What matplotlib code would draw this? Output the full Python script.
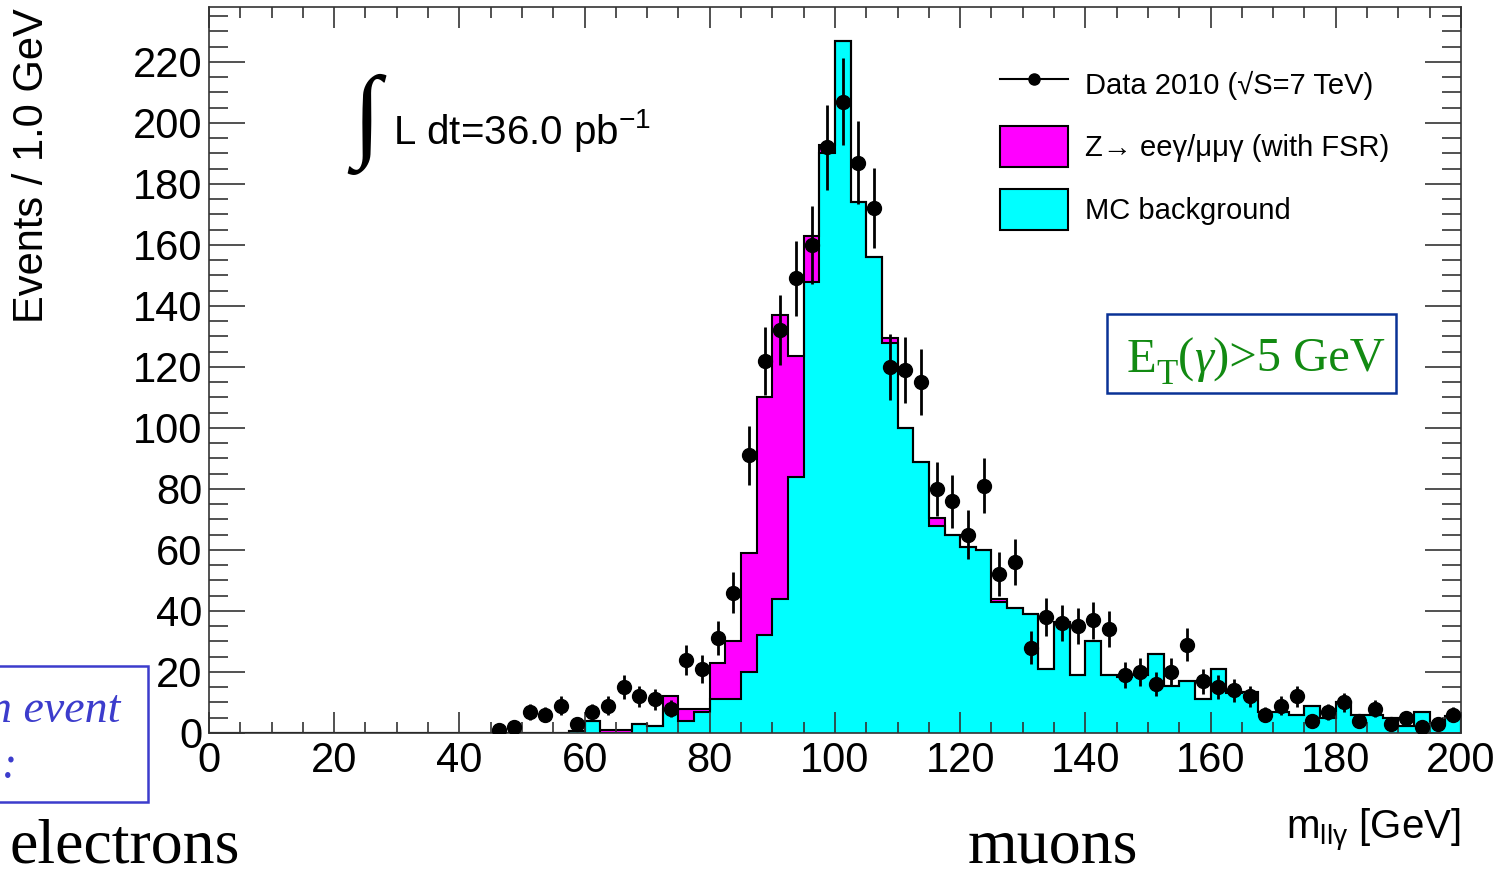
import numpy as np
import matplotlib
matplotlib.use('Agg')
import matplotlib.pyplot as plt
from matplotlib.lines import Line2D
from matplotlib.patches import Patch, Rectangle

plt.rcParams['font.family'] = ['Liberation Sans', 'DejaVu Sans']

# binning: 2.5 GeV bins from 0 to 200, arrays below start at 45 GeV
bin_width = 2.5
x_max = 200.0
first_edge = 45.0

data_counts = [1, 2, 7, 6, 9, 3, 7, 9, 15, 12,
               11, 8, 24, 21, 31, 46, 91, 122, 132, 149,
               160, 192, 207, 187, 172, 120, 119, 115, 80, 76,
               65, 81, 52, 56, 28, 38, 36, 35, 37, 34,
               19, 20, 16, 20, 29, 17, 15, 14, 12, 6,
               9, 12, 4, 7, 10, 4, 8, 3, 5, 2,
               3, 6]

mc_background = [0, 0, 0, 0, 0, 0.5, 4, 0, 0, 3,
                 2.3, 8, 4, 7, 11, 11, 20, 32, 44, 84,
                 148, 190, 227, 174, 156, 128, 100, 89, 68, 65,
                 61, 60, 43, 41, 39, 21, 36.5, 19, 30, 19,
                 18.5, 19, 26, 15.3, 17, 11, 21, 13, 13.5, 7,
                 7, 6, 9, 5, 10, 6, 6, 5, 2.2, 7,
                 3.3, 5.5]

z_fsr = [0, 0, 0, 0, 0, 0, 0, 1, 1, 0,
         0, 4, 4, 1, 12, 19, 39, 78, 93, 39.5,
         15, 2.6, 0, 0, 0, 1.6, 0, 0, 2.4, 0,
         0, 0, 0.8, 0, 0, 0, 0, 0, 0, 0,
         0.5, 0, 0, 0, 0, 0, 0, 0.5, 0, 0,
         0, 0, 0, 0, 0, 0, 0, 0, 0, 0,
         0, 0]

x_ticks = [0, 20, 40, 60, 80, 100, 120, 140, 160, 180, 200]
y_ticks = [0, 20, 40, 60, 80, 100, 120, 140, 160, 180, 200, 220]

W, H = 1505, 871
serif = ['Liberation Serif', 'DejaVu Serif']
fig = plt.figure(figsize=(W / 100, H / 100), dpi=100)
ax = fig.add_axes([209 / W, 1 - 733 / H, 1252 / W, 726 / H])

edges = np.arange(0, x_max + bin_width / 2, bin_width)
n_pad = int(round(first_edge / bin_width))
bkg = np.concatenate([np.zeros(n_pad), mc_background])
total = bkg + np.concatenate([np.zeros(n_pad), z_fsr])

ax.stairs(bkg, edges, fill=True, color='#00ffff', lw=0)
ax.stairs(total, edges, baseline=bkg, fill=True, color='#ff00ff', lw=0)
ax.stairs(bkg, edges, color='black', lw=1.5)
ax.stairs(total, edges, color='black', lw=1.5)

counts = np.array(data_counts, dtype=float)
centers = first_edge + bin_width * (np.arange(len(counts)) + 0.5)
ax.errorbar(centers, counts, yerr=np.sqrt(counts), fmt='o', color='black',
            ms=10, elinewidth=2, capsize=0, zorder=5)

ax.set_xlim(0, x_max)
ax.set_ylim(0, 238)
ax.set_xticks(x_ticks)
ax.set_yticks(y_ticks)
ax.set_xticks(np.arange(0, x_max + 1, 5), minor=True)
ax.set_yticks(np.arange(0, 236, 5), minor=True)
ax.tick_params(which='both', direction='in', top=True, right=True,
               labelsize=30, width=1.2, color='#333333')
ax.tick_params(axis='x', which='major', length=15, pad=6)
ax.tick_params(axis='x', which='minor', length=8)
ax.tick_params(axis='y', which='major', length=26, pad=5)
ax.tick_params(axis='y', which='minor', length=13.5)
for s in ax.spines.values():
    s.set_linewidth(1.2)
    s.set_color('#333333')

# axis titles
fig.text(32 / W, 1 - 8 / H, 'Events / 1.0 GeV', rotation=90, ha='center',
         va='top', fontsize=30)
fig.text(1461 / W, 1 - 830 / H, r'$\mathregular{m_{ll\gamma}}$ [GeV]',
         ha='right', va='center', fontsize=29)

# luminosity
fig.text(366 / W, 1 - 124 / H, '∫', fontsize=74, ha='center', va='center',
         family=serif)
fig.text(393 / W, 1 - 130 / H, r'L dt=36.0 $\mathregular{pb^{-1}}$',
         ha='left', va='center', fontsize=29)

# legend
handles = [
    Line2D([], [], color='black', lw=1.5, marker='o', ms=8),
    Patch(facecolor='#ff00ff', edgecolor='black', lw=1.5),
    Patch(facecolor='#00ffff', edgecolor='black', lw=1.5),
]
labels = ['Data 2010 (√S=7 TeV)', 'Z→ eeγ/μμγ (with FSR)', 'MC background']
ax.legend(handles, labels, loc='upper left', bbox_to_anchor=(1000 / W, 1 - 64 / H),
          bbox_transform=fig.transFigure, frameon=False, fontsize=21,
          handlelength=2.33, handleheight=1.78, labelspacing=0.74,
          handletextpad=0.58, borderpad=0, borderaxespad=0)

# cut box
fig.patches.append(Rectangle((1107 / W, 1 - 393 / H), 289 / W, 79 / H,
                             transform=fig.transFigure, fill=False,
                             edgecolor='#0a3296', lw=1.8))
green = '#128a12'
t_e = fig.text(1127 / W, 1 - 372 / H, 'E', va='baseline', ha='left',
               fontsize=35, color=green, family=serif)
t_t = ax.annotate('T', xy=(1, 0), xycoords=t_e, xytext=(0, -7),
                  textcoords='offset points', va='bottom', ha='left',
                  fontsize=25, color=green, family=serif, annotation_clip=False)
t_p = ax.annotate('(', xy=(1, 0), xycoords=(t_t, t_e), va='bottom', ha='left',
                  fontsize=35, color=green, family=serif, annotation_clip=False)
t_g = ax.annotate('γ', xy=(1, 0), xycoords=t_p, va='bottom', ha='left',
                  fontsize=35, color=green, family=serif, style='italic',
                  annotation_clip=False)
ax.annotate(')>5 GeV', xy=(1, 0), xycoords=t_g, va='bottom', ha='left',
            fontsize=35, color=green, family=serif, annotation_clip=False)

# slide overlays
fig.patches.append(Rectangle((-10 / W, 1 - 802 / H), 158 / W, 136 / H,
                             transform=fig.transFigure, fill=False,
                             edgecolor='#3c3ccc', lw=1.8, clip_on=False))
fig.text(120 / W, 1 - 722 / H, 'an event', ha='right', va='baseline',
         fontsize=33, style='italic', color='#3c3ccc', family=serif)
fig.text(10 / W, 1 - 778 / H, ':', ha='center', va='baseline',
         fontsize=33, style='italic', color='#3c3ccc', family=serif)
fig.text(10 / W, 1 - 862 / H, 'electrons', ha='left', va='baseline',
         fontsize=46, family=serif)
fig.text(968 / W, 1 - 862 / H, 'muons', ha='left', va='baseline',
         fontsize=46, family=serif)

fig.savefig('out.png', dpi=100)
